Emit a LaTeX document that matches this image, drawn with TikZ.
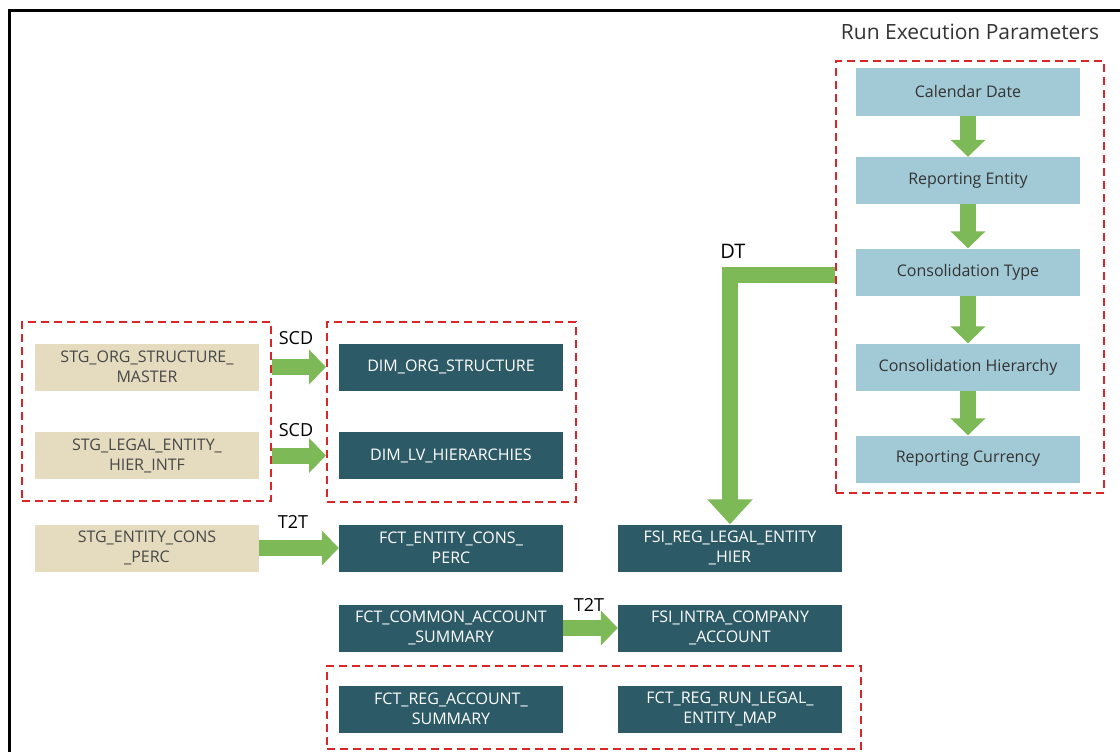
\documentclass[tikz,border=0pt]{standalone}
\usepackage{fontspec}
\setmainfont{Open Sans}
\usetikzlibrary{arrows.meta}

\definecolor{flowgreen}{RGB}{125,185,86}
\definecolor{parmblue}{RGB}{162,202,214}
\definecolor{tblteal}{RGB}{44,90,102}
\definecolor{stgbeige}{RGB}{229,220,192}
\definecolor{grpred}{RGB}{218,37,41}
\definecolor{txtgray}{RGB}{51,51,51}

\begin{document}
\begin{tikzpicture}[x=1pt,y=-1pt,
    box/.style={minimum width=224pt,minimum height=47pt,inner sep=0pt,align=center,
      font=\fontsize{16}{20}\selectfont},
    parm/.style={box,fill=parmblue,text=txtgray},
    stg/.style={box,fill=stgbeige,text=txtgray!90},
    tbl/.style={box,fill=tblteal,text=white},
    grp/.style={draw=grpred,line width=2pt,dash pattern=on 8pt off 5pt,inner sep=0pt},
    fat/.style={draw=flowgreen,line width=16pt,line join=miter,
      -{Triangle[width=34pt,length=17pt]}},
    flowlbl/.style={font=\fontsize{18}{20}\selectfont,text=black,inner sep=0pt}]
    \useasboundingbox (0,0) rectangle (1120,752);
    \draw[line width=3pt] (1120,10.5) -- (9.5,10.5) -- (9.5,752);

    % run execution parameters
    \node[font=\fontsize{21}{24}\selectfont,text=txtgray] (rptitle) at (970,32) {Run Execution Parameters};
    \node[grp,minimum width=268pt,minimum height=432pt] (rpgrp) at (970,277) {};
    \node[parm] (cal) at (968,92) {Calendar Date};
    \node[parm] (ent) at (968,180.5) {Reporting Entity};
    \node[parm] (ctype) at (968,272) {Consolidation Type};
    \node[parm] (chier) at (968,367) {Consolidation Hierarchy};
    \node[parm] (rcur) at (968,459) {Reporting Currency};
    \foreach \a/\b in {cal/ent,ent/ctype,ctype/chier,chier/rcur}
      \draw[fat] (\a) -- (\b);

    % staging and dimension tables
    \node[grp,minimum width=249pt,minimum height=179pt] (stggrp) at (146.5,411.5) {};
    \node[grp,minimum width=249pt,minimum height=180pt] (dimgrp) at (451.5,412) {};
    \node[stg] (stgorg) at (147,367) {STG\_ORG\_STRUCTURE\_\\MASTER};
    \node[stg] (stglegal) at (147,455.5) {STG\_LEGAL\_ENTITY\_\\HIER\_INTF};
    \node[stg] (stgcons) at (147,548) {STG\_ENTITY\_CONS\\\_PERC};
    \node[tbl] (dimorg) at (451,367) {DIM\_ORG\_STRUCTURE};
    \node[tbl] (dimlv) at (451,455.5) {DIM\_LV\_HIERARCHIES};

    % fact tables
    \node[tbl] (fctcons) at (451,548) {FCT\_ENTITY\_CONS\_\\PERC};
    \node[tbl] (fsihier) at (730,548) {FSI\_REG\_LEGAL\_ENTITY\\\_HIER};
    \node[tbl] (fctcommon) at (451,628) {FCT\_COMMON\_ACCOUNT\\\_SUMMARY};
    \node[tbl] (fsiintra) at (730,628) {FSI\_INTRA\_COMPANY\\\_ACCOUNT};
    \node[grp,minimum width=534pt,minimum height=83pt] (reggrp) at (594,707.5) {};
    \node[tbl] (fctreg) at (451,709) {FCT\_REG\_ACCOUNT\_\\SUMMARY};
    \node[tbl] (fctrun) at (730,709) {FCT\_REG\_RUN\_LEGAL\_\\ENTITY\_MAP};

    % flows
    \draw[fat] (stggrp.east |- stgorg) -- (dimgrp.west |- stgorg);
    \draw[fat] (stggrp.east |- stglegal) -- (dimgrp.west |- stglegal);
    \draw[fat] (stgcons) -- (fctcons);
    \draw[fat] (fctcommon) -- (fsiintra);
    \draw[fat,-{Triangle[width=44pt,length=25pt]}] ([yshift=-3pt]rpgrp.west |- ctype) -| (fsihier.north);

    \node[flowlbl] (scdorg) at (296,338) {SCD};
    \node[flowlbl] (scdlegal) at (296,430) {SCD};
    \node[flowlbl] (ttcons) at (293,522) {T2T};
    \node[flowlbl] (ttintra) at (589,605) {T2T};
    \node[flowlbl,font=\fontsize{20}{22}\selectfont] (dtlbl) at (733,251) {DT};
  \end{tikzpicture}
\end{document}
